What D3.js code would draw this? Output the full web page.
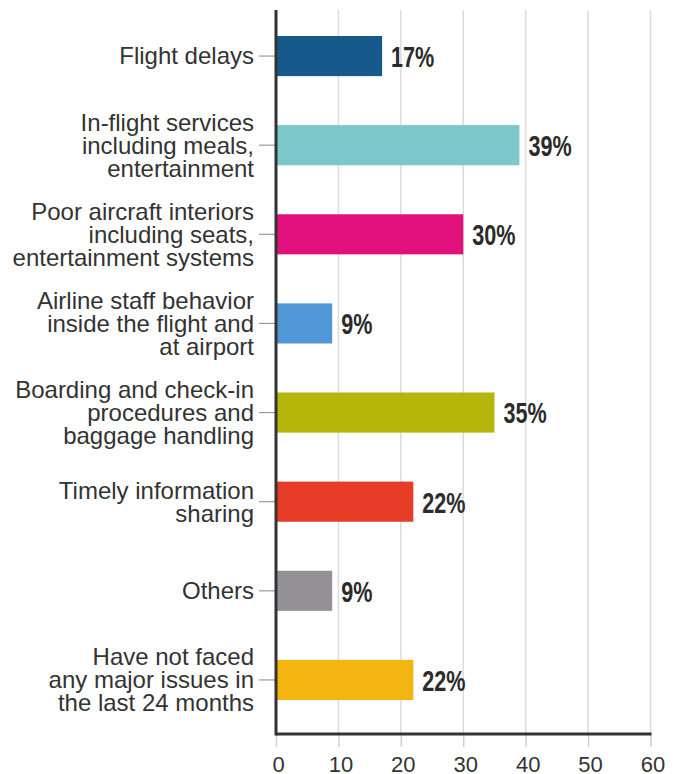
<!DOCTYPE html>
<html>
<head>
<meta charset="utf-8">
<script src="https://cdn.jsdelivr.net/npm/d3@7"></script>
<style>
  html, body { margin: 0; padding: 0; background: #ffffff; }
  svg { display: block; }
</style>
</head>
<body>
<svg id="chart" width="678" height="774"></svg>
<script>
// Share of respondents by main issue faced while flying (%)
const categories = [
  "Flight delays",
  "In-flight services\nincluding meals,\nentertainment",
  "Poor aircraft interiors\nincluding seats,\nentertainment systems",
  "Airline staff behavior\ninside the flight and\nat airport",
  "Boarding and check-in\nprocedures and\nbaggage handling",
  "Timely information\nsharing",
  "Others",
  "Have not faced\nany major issues in\nthe last 24 months"
];
const values = [17, 39, 30, 9, 35, 22, 9, 22];
const barColors = ["#165a8c", "#7bc8ca", "#e2117d", "#4f98d5", "#b5b50b", "#e53b27", "#939196", "#f5b510"];
const xTicks = [0, 10, 20, 30, 40, 50, 60];

const svg = d3.select("#chart");
const plotLeft = 276, plotRight = 650.5, plotTop = 10, plotBottom = 734;

const x = d3.scaleLinear().domain([0, 60]).range([plotLeft, plotRight]);
const y = d3.scaleBand().domain(categories).range([11.5, 724.5]).paddingInner(0.55).paddingOuter(0.275);

// vertical grid lines
svg.append("g").selectAll("line")
  .data(xTicks.filter(d => d > 0))
  .join("line")
  .attr("x1", d => x(d)).attr("x2", d => x(d))
  .attr("y1", plotTop).attr("y2", plotBottom)
  .attr("stroke", "#dcdcdc").attr("stroke-width", 1.5);

// bottom axis
const xAxis = d3.axisBottom(x).tickValues(xTicks).tickSize(13).tickPadding(9).tickSizeOuter(0);
const gx = svg.append("g").attr("transform", `translate(0,${plotBottom})`).call(xAxis);
gx.select(".domain").remove();
gx.selectAll(".tick line").attr("stroke", "#d0d0d0").attr("stroke-width", 1.5);
gx.selectAll(".tick text")
  .attr("font-family", "Liberation Sans, Arial, sans-serif")
  .attr("font-size", 22)
  .attr("fill", "#333")
  .attr("dx", 2)
  .attr("dy", "0.71em");

// bars
svg.append("g").selectAll("rect")
  .data(values)
  .join("rect")
  .attr("x", x(0))
  .attr("y", (d, i) => y(categories[i]))
  .attr("width", d => x(d) - x(0))
  .attr("height", y.bandwidth())
  .attr("fill", (d, i) => barColors[i]);

// category tick marks
svg.append("g").selectAll("line")
  .data(categories)
  .join("line")
  .attr("x1", 259).attr("x2", plotLeft)
  .attr("y1", d => y(d) + y.bandwidth() / 2)
  .attr("y2", d => y(d) + y.bandwidth() / 2)
  .attr("stroke", "#9a9a9a").attr("stroke-width", 1.2);

// category labels
const lh = 23;
const labels = svg.append("g")
  .attr("font-family", "Liberation Sans, Arial, sans-serif")
  .attr("font-size", 24)
  .attr("fill", "#333")
  .attr("text-anchor", "end");
categories.forEach(c => {
  const lines = c.split("\n");
  const cy = y(c) + y.bandwidth() / 2;
  const t = labels.append("text").attr("x", 254);
  lines.forEach((ln, k) => {
    t.append("tspan")
      .attr("x", 254)
      .attr("y", cy + (k - (lines.length - 1) / 2) * lh)
      .attr("dy", "0.35em")
      .text(ln);
  });
});

// value labels (bold, horizontally condensed)
svg.append("g").selectAll("text")
  .data(values)
  .join("text")
  .attr("transform", (d, i) => `translate(${x(d) + 9},${y(categories[i]) + y.bandwidth() / 2}) scale(0.72,1)`)
  .attr("dy", "0.36em")
  .attr("font-family", "Liberation Sans, Arial, sans-serif")
  .attr("font-weight", "bold")
  .attr("font-size", 30)
  .attr("fill", "#2b2b2b")
  .text(d => d + "%");

// axis lines
svg.append("line")
  .attr("x1", plotLeft).attr("x2", plotRight + 1)
  .attr("y1", plotBottom).attr("y2", plotBottom)
  .attr("stroke", "#333").attr("stroke-width", 3);
svg.append("line")
  .attr("x1", plotLeft).attr("x2", plotLeft)
  .attr("y1", plotTop).attr("y2", plotBottom + 1.5)
  .attr("stroke", "#333").attr("stroke-width", 3);
</script>
</body>
</html>
